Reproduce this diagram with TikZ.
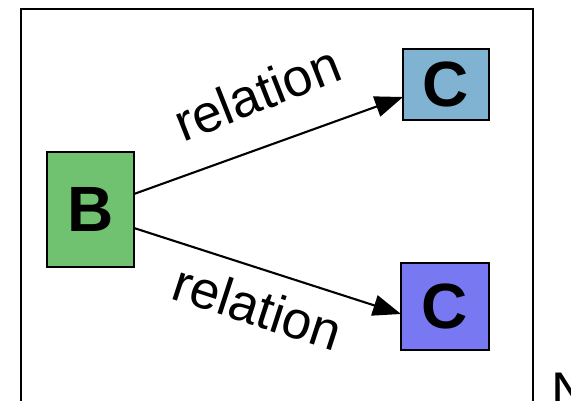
\documentclass[tikz,border=0pt]{standalone}
\usepackage{fontspec}
\setmainfont{Liberation Sans}
\usetikzlibrary{arrows.meta}
\definecolor{bgreen}{RGB}{112,194,112}
\definecolor{csteel}{RGB}{128,178,210}
\definecolor{cviolet}{RGB}{120,120,242}
\tikzset{
  entity/.style={draw=black, line width=2.1pt, minimum width=87pt, minimum height=72pt,
    inner sep=0pt, font=\fontsize{64}{64}\selectfont\bfseries},
  rel/.style={line width=2.1pt, -{Triangle[length=28pt,width=21pt]}},
  rellabel/.style={font=\fontsize{53}{53}\selectfont, inner sep=0pt},
  frame/.style={draw=black, line width=2.1pt}
}
\begin{document}
\begin{tikzpicture}[x=1pt,y=-1pt]
  \useasboundingbox (0,0) rectangle (571,400);
  \clip (0,0) rectangle (571,400);
  % enclosing frame, running past the lower edge
  \draw[frame] (21,9) rectangle (533,430);
  % entities
  \node[entity, fill=bgreen, minimum height=115pt] (b) at (90.5,209.5) {B};
  \node[entity, fill=csteel, minimum width=86pt, minimum height=71pt] (c1) at (446,84.5) {C};
  \node[entity, fill=cviolet, minimum width=88pt, minimum height=87pt] (c2) at (445,306.5) {C};
  % relation anchors on the boxes
  \coordinate (bu) at (134,194);
  \coordinate (bl) at (134,228);
  \coordinate (c1in) at (403,97);
  \coordinate (c2in) at (401,314);
  \draw[rel] (bu) -- (c1in);
  \draw[rel] (bl) -- (c2in);
  \node[rellabel, rotate=21.5] (l1) at (257,93) {relation};
  \node[rellabel, rotate=-18] (l2) at (258,307) {relation};
  % label at the lower right
  \node[rellabel, anchor=north west] (n) at (551,373) {N};
\end{tikzpicture}
\end{document}
